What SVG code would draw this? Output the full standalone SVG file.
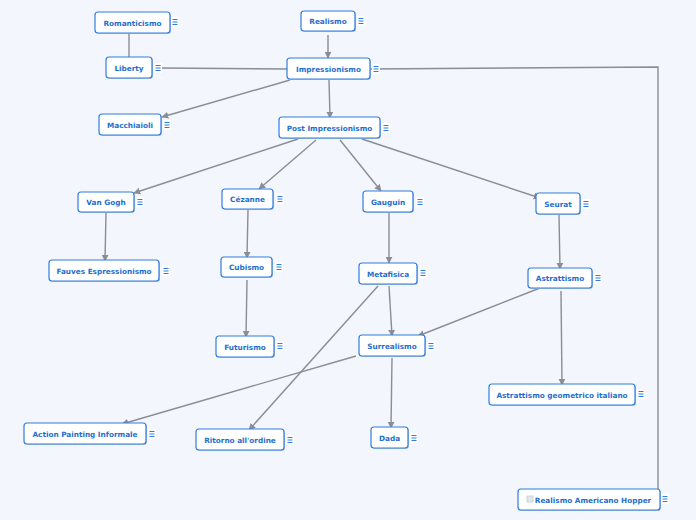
<svg xmlns="http://www.w3.org/2000/svg" width="696" height="520" viewBox="0 0 696 520">
<defs>
<style>
.n rect.b{fill:#fff;stroke:#2f7de1;stroke-width:1.2}
.n rect.s{fill:#b9c6da}
.n text{font-family:"DejaVu Sans","Liberation Sans",sans-serif;font-weight:bold;font-size:7.3px;fill:#1f6fd1;text-anchor:middle}
.ic rect{fill:#fff}
.ic path{stroke:#2f7de1;stroke-width:1.1}
.c path{fill:none;stroke:#8a8d93;stroke-width:1.4}
.c path.a{marker-end:url(#ah)}
</style>
<marker id="ah" viewBox="0 0 10 10" refX="9" refY="5" markerWidth="7" markerHeight="7" orient="auto" markerUnits="userSpaceOnUse">
<path d="M0,0 L10,5 L0,10 z" fill="#8a8d93"/>
</marker>
<g id="icon" class="ic"><rect x="-4" y="-5" width="8" height="10"/><path d="M-2.5,-2.5h5M-2.5,0h5M-2.5,2.5h5"/></g>
</defs>
<rect width="696" height="520" fill="#f3f6fd"/>
<g class="c">
<path d="M129,33 V57"/>
<path class="a" d="M328,35 V58"/>
<path d="M287,69 L160,68"/>
<path d="M370,69 L658,67 V489"/>
<path class="a" d="M290,80 L162,117"/>
<path class="a" d="M329,80 L330,118"/>
<path class="a" d="M298,139 L134,193"/>
<path class="a" d="M316,140 L259,189"/>
<path class="a" d="M340,140 L381,191"/>
<path class="a" d="M362,139 L540,198"/>
<path class="a" d="M106,213 L105,261"/>
<path class="a" d="M248,210 L247,258"/>
<path class="a" d="M389,213 L389,263"/>
<path class="a" d="M559,215 L560,269"/>
<path class="a" d="M247,280 L246,337"/>
<path class="a" d="M389,286 L392,336"/>
<path class="a" d="M378,286 L249,430"/>
<path class="a" d="M540,288 L418,336"/>
<path class="a" d="M561,291 L562,385"/>
<path class="a" d="M356,356 L122,424"/>
<path class="a" d="M392,358 L391,428"/>
</g>
<g id="n-romanticismo" class="n"><rect class="s" x="96" y="13" width="75" height="21" rx="3"/><rect class="b" x="95" y="12" width="75" height="21" rx="3"/><text x="132.5" y="25.5">Romanticismo</text><use href="#icon" x="175" y="22"/></g>
<g id="n-realismo" class="n"><rect class="s" x="302" y="12" width="54" height="20" rx="3"/><rect class="b" x="301" y="11" width="54" height="20" rx="3"/><text x="328" y="24">Realismo</text><use href="#icon" x="361" y="21"/></g>
<g id="n-liberty" class="n"><rect class="s" x="107" y="58" width="46" height="21" rx="3"/><rect class="b" x="106" y="57" width="46" height="21" rx="3"/><text x="129" y="70.5">Liberty</text><use href="#icon" x="158" y="68"/></g>
<g id="n-impressionismo" class="n"><rect class="s" x="288" y="59" width="83" height="21" rx="3"/><rect class="b" x="287" y="58" width="83" height="21" rx="3"/><text x="328.5" y="71.5">Impressionismo</text><use href="#icon" x="376" y="69"/></g>
<g id="n-macchiaioli" class="n"><rect class="s" x="100" y="115" width="62" height="21" rx="3"/><rect class="b" x="99" y="114" width="62" height="21" rx="3"/><text x="130" y="127.5">Macchiaioli</text><use href="#icon" x="167" y="125"/></g>
<g id="n-post" class="n"><rect class="s" x="280" y="118" width="101" height="21" rx="3"/><rect class="b" x="279" y="117" width="101" height="21" rx="3"/><text x="329.5" y="130.5">Post Impressionismo</text><use href="#icon" x="386" y="128"/></g>
<g id="n-vangogh" class="n"><rect class="s" x="79" y="193" width="56" height="20" rx="3"/><rect class="b" x="78" y="192" width="56" height="20" rx="3"/><text x="106" y="205">Van Gogh</text><use href="#icon" x="140" y="202"/></g>
<g id="n-cezanne" class="n"><rect class="s" x="223" y="190" width="51" height="20" rx="3"/><rect class="b" x="222" y="189" width="51" height="20" rx="3"/><text x="247.5" y="202">Cézanne</text><use href="#icon" x="280" y="199"/></g>
<g id="n-gauguin" class="n"><rect class="s" x="364" y="192" width="50" height="21" rx="3"/><rect class="b" x="363" y="191" width="50" height="21" rx="3"/><text x="388" y="204.5">Gauguin</text><use href="#icon" x="420" y="202"/></g>
<g id="n-seurat" class="n"><rect class="s" x="537" y="194" width="44" height="21" rx="3"/><rect class="b" x="536" y="193" width="44" height="21" rx="3"/><text x="558" y="206.5">Seurat</text><use href="#icon" x="586" y="204"/></g>
<g id="n-fauves" class="n"><rect class="s" x="50" y="261" width="110" height="21" rx="3"/><rect class="b" x="49" y="260" width="110" height="21" rx="3"/><text x="104" y="273.5">Fauves Espressionismo</text><use href="#icon" x="166" y="271"/></g>
<g id="n-cubismo" class="n"><rect class="s" x="222" y="258" width="51" height="20" rx="3"/><rect class="b" x="221" y="257" width="51" height="20" rx="3"/><text x="246.5" y="270">Cubismo</text><use href="#icon" x="279" y="267"/></g>
<g id="n-metafisica" class="n"><rect class="s" x="360" y="264" width="58" height="21" rx="3"/><rect class="b" x="359" y="263" width="58" height="21" rx="3"/><text x="388" y="276.5">Metafisica</text><use href="#icon" x="423" y="273"/></g>
<g id="n-astrattismo" class="n"><rect class="s" x="529" y="269" width="64" height="20" rx="3"/><rect class="b" x="528" y="268" width="64" height="20" rx="3"/><text x="560" y="281">Astrattismo</text><use href="#icon" x="598" y="278"/></g>
<g id="n-futurismo" class="n"><rect class="s" x="217" y="337" width="58" height="21" rx="3"/><rect class="b" x="216" y="336" width="58" height="21" rx="3"/><text x="245" y="349.5">Futurismo</text><use href="#icon" x="280" y="346"/></g>
<g id="n-surrealismo" class="n"><rect class="s" x="360" y="336" width="66" height="21" rx="3"/><rect class="b" x="359" y="335" width="66" height="21" rx="3"/><text x="392" y="348.5">Surrealismo</text><use href="#icon" x="431" y="346"/></g>
<g id="n-astrgeom" class="n"><rect class="s" x="490" y="385" width="146" height="21" rx="3"/><rect class="b" x="489" y="384" width="146" height="21" rx="3"/><text x="562" y="397.5">Astrattismo geometrico italiano</text><use href="#icon" x="641" y="394"/></g>
<g id="n-action" class="n"><rect class="s" x="25" y="424" width="122" height="21" rx="3"/><rect class="b" x="24" y="423" width="122" height="21" rx="3"/><text x="85" y="436.5">Action Painting Informale</text><use href="#icon" x="152" y="434"/></g>
<g id="n-ritorno" class="n"><rect class="s" x="197" y="430" width="88" height="21" rx="3"/><rect class="b" x="196" y="429" width="88" height="21" rx="3"/><text x="240" y="442.5">Ritorno all'ordine</text><use href="#icon" x="290" y="440"/></g>
<g id="n-dada" class="n"><rect class="s" x="372" y="428" width="37" height="21" rx="3"/><rect class="b" x="371" y="427" width="37" height="21" rx="3"/><text x="389.5" y="440.5">Dada</text><use href="#icon" x="414" y="438"/></g>
<g id="n-hopper" class="n"><rect class="s" x="519" y="490" width="142" height="21" rx="3"/><rect class="b" x="518" y="489" width="142" height="21" rx="3"/><rect x="527" y="496" width="6" height="6" fill="#e4e6ea" stroke="#c8cbd0" stroke-width="0.8"/><text x="593" y="502.5">Realismo Americano Hopper</text><use href="#icon" x="665" y="499"/></g>
</svg>
